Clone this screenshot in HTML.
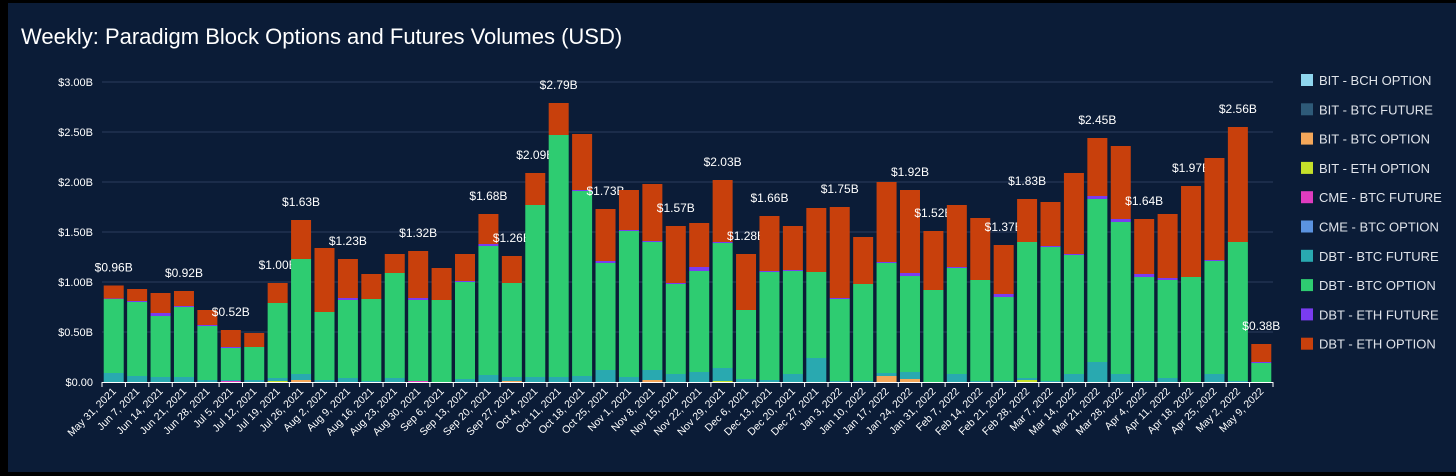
<!DOCTYPE html>
<html><head><meta charset="utf-8">
<style>
html,body{margin:0;padding:0;background:#000;}
#wrap{position:relative;width:1456px;height:476px;overflow:hidden;background:#000;}
#panel{position:absolute;left:8px;top:3px;width:1448px;height:469px;background:#0b1c37;}
svg{position:absolute;left:0;top:0;font-family:"Liberation Sans",sans-serif;}
</style></head>
<body>
<div id="wrap">
<div id="panel"></div>
<svg id="chart" width="1456" height="476">
<text x="21" y="44" fill="#ffffff" font-size="22">Weekly: Paradigm Block Options and Futures Volumes (USD)</text>
</svg>
</div>
<script>
const categories=["May 31, 2021","Jun 7, 2021","Jun 14, 2021","Jun 21, 2021","Jun 28, 2021","Jul 5, 2021","Jul 12, 2021","Jul 19, 2021","Jul 26, 2021","Aug 2, 2021","Aug 9, 2021","Aug 16, 2021","Aug 23, 2021","Aug 30, 2021","Sep 6, 2021","Sep 13, 2021","Sep 20, 2021","Sep 27, 2021","Oct 4, 2021","Oct 11, 2021","Oct 18, 2021","Oct 25, 2021","Nov 1, 2021","Nov 8, 2021","Nov 15, 2021","Nov 22, 2021","Nov 29, 2021","Dec 6, 2021","Dec 13, 2021","Dec 20, 2021","Dec 27, 2021","Jan 3, 2022","Jan 10, 2022","Jan 17, 2022","Jan 24, 2022","Jan 31, 2022","Feb 7, 2022","Feb 14, 2022","Feb 21, 2022","Feb 28, 2022","Mar 7, 2022","Mar 14, 2022","Mar 21, 2022","Mar 28, 2022","Apr 4, 2022","Apr 11, 2022","Apr 18, 2022","Apr 25, 2022","May 2, 2022","May 9, 2022"];
const bitBchOption=new Array(50).fill(0);
const bitBtcFuture=new Array(50).fill(0);
const bitBtcOption=[0,0,0,0,0,0,0,0,.02,0,0,0,0,0,0,0,0,.01,0,0,0,0,0,.02,0,0,0,0,0,0,0,0,0,.06,.03,0,0,0,0,0,0,0,0,0,0,0,0,0,0,0];
const bitEthOption=[0,0,0,0,0,0,0,.01,0,0,0,0,0,0,0,0,0,0,0,0,0,0,0,0,0,0,.01,0,0,0,0,0,0,0,0,0,0,0,0,.02,0,0,0,0,0,0,0,0,0,0];
const cmeBtcFuture=[0,0,0,0,0,.01,0,0,0,0,0,0,0,.01,0,0,0,0,0,0,0,0,0,0,0,0,0,0,0,0,0,0,0,0,0,0,0,0,0,0,0,0,0,0,0,0,0,0,0,0];
const cmeBtcOption=new Array(50).fill(0);
const dbtBtcFuture=[.09,.06,.05,.05,.02,.01,.02,.03,.06,.02,.04,.01,.04,0,0,.03,.07,.04,.05,.05,.06,.12,.05,.1,.08,.1,.13,.03,.02,.08,.24,.01,.01,.03,.07,0,.08,.01,.01,.02,.01,.08,.2,.08,.01,.04,0,.08,.01,0];
const dbtBtcOption=[.74,.74,.61,.70,.54,.32,.33,.75,1.15,.68,.78,.82,1.05,.81,.82,.97,1.29,.94,1.72,2.42,1.85,1.07,1.46,1.28,.90,1.01,1.25,.69,1.08,1.03,.86,.82,.97,1.10,.96,.92,1.06,1.01,.84,1.36,1.34,1.19,1.63,1.52,1.04,.98,1.05,1.13,1.39,.19];
const dbtEthFuture=[.005,.01,.03,.01,.01,.01,0,0,0,0,.02,0,0,.02,0,.01,.02,0,0,0,.01,.02,.01,.01,.01,.04,.01,0,.01,.01,0,.01,0,.01,.03,0,.01,0,.03,0,.01,.01,.03,.03,.03,.02,0,.01,0,.01];
const dbtEthOption=[.13,.12,.20,.15,.15,.17,.14,.20,.39,.64,.39,.25,.19,.47,.32,.27,.30,.27,.32,.32,.56,.52,.40,.57,.57,.44,.62,.56,.55,.44,.64,.91,.47,.80,.83,.59,.62,.62,.49,.43,.44,.81,.58,.73,.55,.64,.91,1.02,1.15,.18];
const totalLabels=["$0.96B",null,null,"$0.92B",null,"$0.52B",null,"$1.00B","$1.63B",null,"$1.23B",null,null,"$1.32B",null,null,"$1.68B","$1.26B","$2.09B","$2.79B",null,"$1.73B",null,null,"$1.57B",null,"$2.03B","$1.28B","$1.66B",null,null,"$1.75B",null,null,"$1.92B","$1.52B",null,null,"$1.37B","$1.83B",null,null,"$2.45B",null,"$1.64B",null,"$1.97B",null,"$2.56B","$0.38B"];
const yTicks=[0,0.5,1,1.5,2,2.5,3];
const yTickLabels=["$0.00","$0.50B","$1.00B","$1.50B","$2.00B","$2.50B","$3.00B"];
const seriesNames=["BIT - BCH OPTION","BIT - BTC FUTURE","BIT - BTC OPTION","BIT - ETH OPTION","CME - BTC FUTURE","CME - BTC OPTION","DBT - BTC FUTURE","DBT - BTC OPTION","DBT - ETH FUTURE","DBT - ETH OPTION"];

const seriesData=[bitBchOption,bitBtcFuture,bitBtcOption,bitEthOption,cmeBtcFuture,cmeBtcOption,dbtBtcFuture,dbtBtcOption,dbtEthFuture,dbtEthOption];
const colors=["#8fd6ee","#2e5a78","#f4a75a","#c5e02a","#e03cc0","#5b93e0","#29a9b0","#2ecc71","#7a3cf0","#c8400c"];
const NS="http://www.w3.org/2000/svg";
const svg=document.getElementById('chart');
const X0=102,X1=1273,Y0=382,PX_PER_B=100,BW=20;
const step=(X1-X0)/categories.length;
function xPos(i){return X0+i*step+(step-BW)/2;}
function yPos(v){return Y0-v*PX_PER_B;}
function mk(tag,attrs){const e=document.createElementNS(NS,tag);for(const k in attrs)e.setAttribute(k,attrs[k]);svg.appendChild(e);return e;}

yTicks.forEach((t,i)=>{
  if(i>0){const g=mk('line',{x1:X0,x2:X1,y1:yPos(t),y2:yPos(t),stroke:'#2b3d5c','stroke-width':1});
  
  }
  const l=mk('text',{x:93,y:yPos(t)+4,fill:'#ffffff','font-size':11,'text-anchor':'end'});
  l.textContent=yTickLabels[i];
  
  
});

categories.forEach((c,i)=>{
  let acc=0;
  seriesData.forEach((s,k)=>{
    const v=s[i];if(!v)return;
    const r=mk('rect',{x:xPos(i),y:yPos(acc+v),width:BW,height:v*PX_PER_B,fill:colors[k]});
    
    
    acc+=v;
  });
  if(totalLabels[i]){
    const t=mk('text',{x:xPos(i)+BW/2,y:yPos(acc)-14,fill:'#ffffff','font-size':12,'text-anchor':'middle'});
    t.textContent=totalLabels[i];
    
    
  }
  const tk=mk('line',{x1:X0+i*step,x2:X0+i*step,y1:Y0,y2:Y0+5,stroke:'#ffffff','stroke-width':1});
  
  
  const cx=xPos(i)+BW/2+3, cy=Y0+10;
  const xl=mk('text',{x:cx,y:cy,fill:'#ffffff','font-size':10.5,'text-anchor':'end',transform:`rotate(-45 ${cx} ${cy})`});
  xl.textContent=c;
  
  
});
const tkEnd=mk('line',{x1:X1,x2:X1,y1:Y0,y2:Y0+5,stroke:'#ffffff','stroke-width':1});


const ax=mk('line',{x1:X0,x2:X1,y1:Y0+0.5,y2:Y0+0.5,stroke:'#ffffff','stroke-width':1});



seriesNames.forEach((n,k)=>{
  const y=80+k*29.3;
  const sq=mk('rect',{x:1301,y:y-6,width:12,height:12,fill:colors[k]});
  
  
  const t=mk('text',{x:1319,y:y+5,fill:'#dfe3ea','font-size':13});
  t.textContent=n;
  
  
});
</script>
</body></html>
